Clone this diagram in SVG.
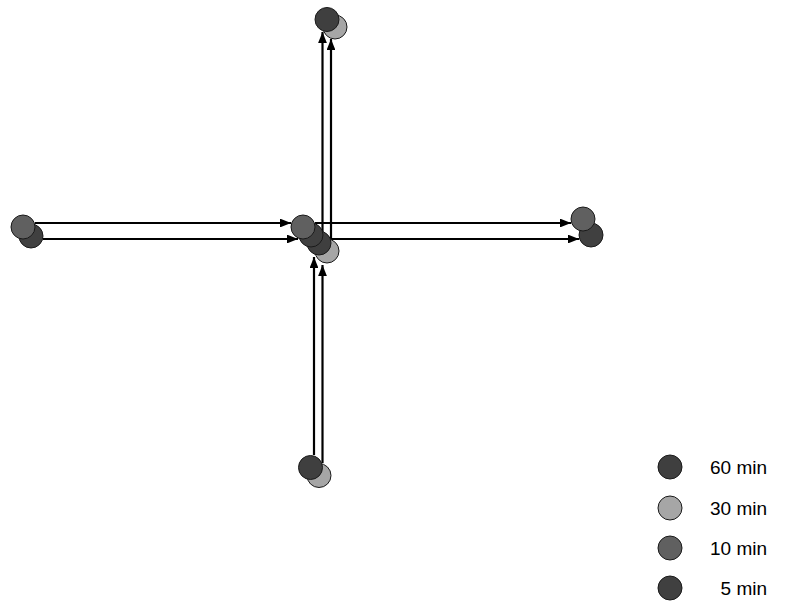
<svg xmlns="http://www.w3.org/2000/svg" width="785" height="601" viewBox="0 0 785 601">
<style>
.c{stroke:#1a1a1a;stroke-width:1}
.m60{fill:#3f3f3f}
.m30{fill:#a6a6a6}
.m10{fill:#606060}
.m5{fill:#404040}
.a{stroke:#000;stroke-width:2.2;fill:none;marker-end:url(#ah)}
text{font-family:"Liberation Sans",Arial,sans-serif;font-size:19px;fill:#000}
</style>
<defs>
<marker id="ah" viewBox="0 0 10 8" refX="10" refY="4" markerWidth="5" markerHeight="4" orient="auto" markerUnits="strokeWidth">
<path d="M0,0 L10,4 L0,8 Z" fill="#000"/>
</marker>
</defs>
<rect width="785" height="601" fill="#fff"/>
<g id="connectors">
<line class="a" x1="35" y1="223" x2="291" y2="223"/>
<line class="a" x1="43" y1="239" x2="298" y2="239"/>
<line class="a" x1="315" y1="223" x2="571" y2="223"/>
<line class="a" x1="323" y1="239" x2="579" y2="239"/>
<line class="a" x1="322.5" y1="235" x2="322.5" y2="32"/>
<line class="a" x1="331" y1="245" x2="331" y2="39"/>
<line class="a" x1="314" y1="455" x2="314" y2="257"/>
<line class="a" x1="322.5" y1="463" x2="322.5" y2="265"/>
</g>
<g id="node-left">
<circle class="c m5" cx="31" cy="236" r="12"/>
<circle class="c m10" cx="23" cy="227" r="12"/>
</g>
<g id="node-right">
<circle class="c m5" cx="591" cy="235" r="12"/>
<circle class="c m10" cx="583" cy="219" r="12"/>
</g>
<g id="node-top">
<circle class="c m30" cx="335" cy="27" r="12"/>
<circle class="c m60" cx="327" cy="19.5" r="12"/>
</g>
<g id="node-bottom">
<circle class="c m30" cx="319" cy="475.5" r="12"/>
<circle class="c m60" cx="310.5" cy="467.5" r="12"/>
</g>
<g id="node-center">
<circle class="c m30" cx="327" cy="251" r="12"/>
<circle class="c m60" cx="319" cy="243" r="12"/>
<circle class="c m5" cx="311" cy="235" r="12"/>
<circle class="c m10" cx="303" cy="227" r="12"/>
</g>
<g id="legend">
<circle class="c m60" cx="670" cy="467" r="12"/>
<circle class="c m30" cx="670" cy="508" r="12"/>
<circle class="c m10" cx="670" cy="548" r="12"/>
<circle class="c m5" cx="670" cy="588" r="12"/>
<text x="767" y="474" text-anchor="end">60 min</text>
<text x="767" y="515" text-anchor="end">30 min</text>
<text x="767" y="555" text-anchor="end">10 min</text>
<text x="767" y="595" text-anchor="end">5 min</text>
</g>
</svg>
